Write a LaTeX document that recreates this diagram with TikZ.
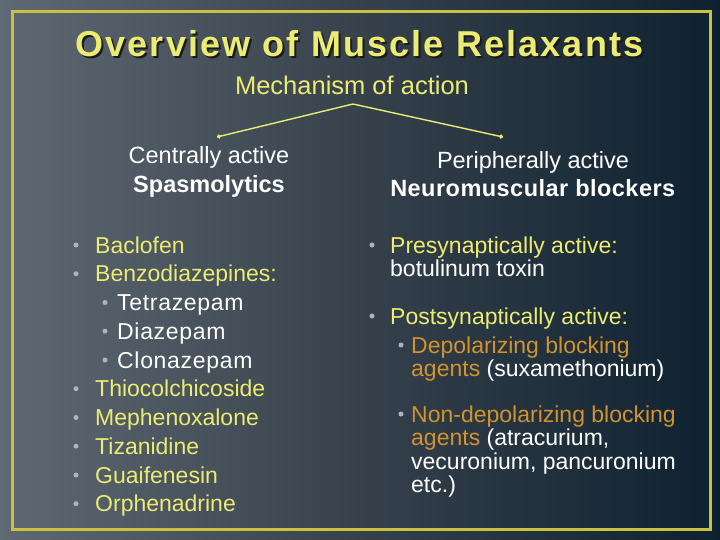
\documentclass[tikz,border=0pt]{standalone}
\usepackage{fontspec}
\setmainfont{Liberation Sans}
\usetikzlibrary{positioning,arrows.meta,calc}
\definecolor{bgleft}{HTML}{5F6974}
\definecolor{bgmid}{HTML}{36414C}
\definecolor{bgright}{HTML}{0E2130}
\definecolor{frameyel}{HTML}{C9C23E}
\definecolor{txtyel}{HTML}{ECEB72}
\definecolor{txtorange}{HTML}{D2932E}
\definecolor{bulletgray}{HTML}{A9B6C2}

\begin{document}
\begin{tikzpicture}[x=1pt,y=-1pt,>=Latex,
  item/.style={anchor=base west,inner sep=0pt,text=txtyel,
               font=\fontsize{23}{28}\selectfont},
  subitem/.style={item,text=white},
  ritem/.style={item,align=left,font=\fontsize{23}{23.5}\selectfont},
  head/.style={align=center,inner sep=0pt,text=white,
               font=\fontsize{23.5}{28.5}\selectfont},
  titlefont/.style={font=\fontsize{36}{40}\selectfont\bfseries\addfontfeatures{LetterSpace=6}},
  dot/.style={circle,fill=bulletgray,inner sep=0pt,minimum size=5pt},
  link/.style={draw=txtyel,line width=1.4pt,{Circle[length=4pt]}-{Circle[length=4pt]}}]
% slide background and frame
\shade[left color=bgleft,right color=bgright,middle color=bgmid] (0,0) rectangle (720,540);
\draw[frameyel,line width=3pt] (12,12) rectangle (710,529);
\useasboundingbox (0,0) rectangle (720,540);
% title
\node[titlefont,text=black!90] (titleshadow) at (361.5,45.5) {Overview of Muscle Relaxants};
\node[titlefont,text=txtyel] (title) at (359.5,44) {Overview of Muscle Relaxants};
\node[text=txtyel,font=\fontsize{25.5}{28}\selectfont] (moa) at (352,85) {Mechanism of action};
% the two branches
\coordinate (apex) at (353,104);
\coordinate (lend) at (217,137);
\coordinate (rend) at (503,137);
\node[head] (cent) at (209,172) {Centrally active\\\textbf{Spasmolytics}};
\node[head] (peri) at (533,174) {Peripherally active\\\textbf{\addfontfeatures{LetterSpace=2}Neuromuscular blockers}};
\draw[link] (lend) -- (apex) -- (rend);
% left list
\foreach \y/\txt [count=\i] in {253/Baclofen,281.7/Benzodiazepines:,396.7/Thiocolchicoside,
    425.5/Mephenoxalone,454.2/Tizanidine,483/Guaifenesin,511.7/Orphenadrine} {
  \node[dot] (lb\i) at (76,\y-8) {};
  \node[item] (l\i) at (95,\y) {\txt};
}
\foreach \y/\txt [count=\i] in {310.5/Tetrazepam,339.2/Diazepam,368/Clonazepam} {
  \node[dot] (sb\i) at (105,\y-8) {};
  \node[subitem,font=\fontsize{23}{28}\selectfont\addfontfeatures{LetterSpace=3}] (s\i) at (117,\y) {\txt};
}
% right list (base = last line)
\node[dot] (rb1) at (372,245) {};
\node[ritem] (r1) at (390,276.5) {Presynaptically active:\\\textcolor{white}{botulinum toxin}};
\node[dot] (rb2) at (372,316) {};
\node[ritem] (r2) at (390,324) {Postsynaptically active:};
\node[dot] (rs1) at (401,345) {};
\node[ritem,text=txtorange] (r3) at (411,376.5) {Depolarizing blocking\\agents \textcolor{white}{(suxamethonium)}};
\node[dot] (rs2) at (401,414) {};
\node[ritem,text=txtorange] (r4) at (411,492.5) {Non-depolarizing blocking\\agents \textcolor{white}{(atracurium,}\\\textcolor{white}{vecuronium, pancuronium}\\\textcolor{white}{etc.)}};
\end{tikzpicture}
\end{document}
